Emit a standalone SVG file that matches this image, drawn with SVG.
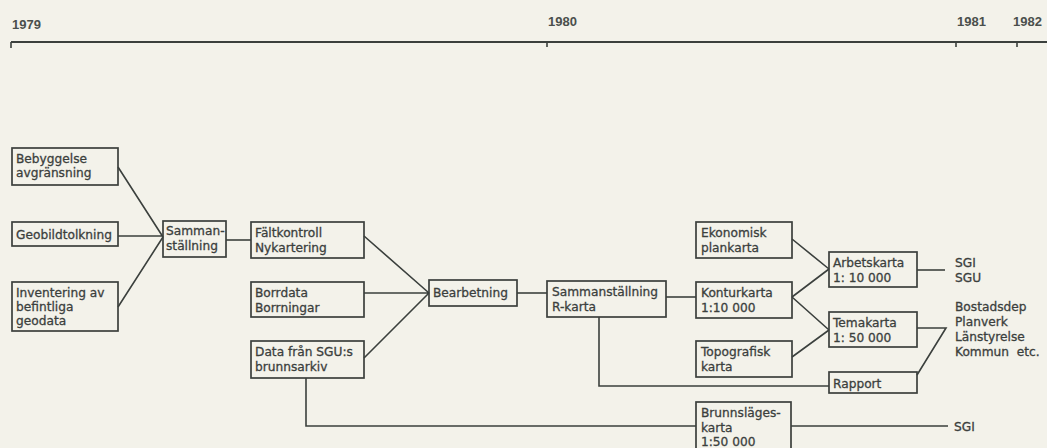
<svg xmlns="http://www.w3.org/2000/svg" width="1047" height="448" viewBox="0 0 1047 448">
<style>
.bg{fill:#f3f2ea}
.box{fill:none;stroke:#3b403d;stroke-width:1.7}
.ln{fill:none;stroke:#3b403d;stroke-width:1.6}
text{font-family:"DejaVu Sans","Liberation Sans",sans-serif;font-size:12.2px;fill:#3b403d;stroke:#3b403d;stroke-width:0.3;white-space:pre}
.yr{font-family:"Liberation Sans",Arial,sans-serif;font-size:13px;font-weight:bold;fill:#4a4f4c;stroke:none}
</style>
<rect class="bg" x="0" y="0" width="1047" height="448"/>
<g id="timeline">
<path class="ln" d="M11 42H1047" style="stroke-width:2"/>
<path class="ln" d="M11 42V48M547 42V47M956 42V47M1017 42V47"/>
<text class="yr" x="12" y="29">1979</text>
<text class="yr" x="548" y="26">1980</text>
<text class="yr" x="957" y="26">1981</text>
<text class="yr" x="1013" y="26">1982</text>
</g>
<g id="connectors">
<path class="ln" d="M118 167L163 237M118 236H163M118 307L163 237"/>
<path class="ln" d="M226 240H251"/>
<path class="ln" d="M364 236L429 293M364 293H429M364 358L429 293"/>
<path class="ln" d="M517 293H547"/>
<path class="ln" d="M666 297H696"/>
<path class="ln" d="M792 239L829 269M792 297L829 269M792 297L829 330M792 357L829 330"/>
<path class="ln" d="M917 270H945"/>
<path class="ln" d="M917 328H946L917 375"/>
<path class="ln" d="M599 317V386H829"/>
<path class="ln" d="M306 378V426H696M791 426H948"/>
</g>
<g id="n-bebyggelse"><rect class="box" x="12" y="148" width="106" height="37"/><text x="16" y="163">Bebyggelse</text><text x="16" y="177">avgränsning</text></g>
<g id="n-geobild"><rect class="box" x="12" y="222" width="106" height="24"/><text x="16" y="239">Geobildtolkning</text></g>
<g id="n-inventering"><rect class="box" x="12" y="282" width="106" height="49"/><text x="16" y="297">Inventering av</text><text x="16" y="311">befintliga</text><text x="16" y="325">geodata</text></g>
<g id="n-samman"><rect class="box" x="163" y="221" width="63" height="36"/><text x="166" y="235">Samman-</text><text x="166" y="250">ställning</text></g>
<g id="n-faltkontroll"><rect class="box" x="251" y="222" width="113" height="36"/><text x="255" y="237">Fältkontroll</text><text x="255" y="252">Nykartering</text></g>
<g id="n-borrdata"><rect class="box" x="251" y="282" width="113" height="35"/><text x="255" y="297">Borrdata</text><text x="255" y="312">Borrningar</text></g>
<g id="n-datasgu"><rect class="box" x="251" y="341" width="113" height="37"/><text x="255" y="356">Data från SGU:s</text><text x="255" y="371">brunnsarkiv</text></g>
<g id="n-bearbetning"><rect class="box" x="429" y="280" width="88" height="26"/><text x="433" y="297">Bearbetning</text></g>
<g id="n-rkarta"><rect class="box" x="547" y="281" width="119" height="36"/><text x="552" y="296">Sammanställning</text><text x="552" y="311">R-karta</text></g>
<g id="n-ekonomisk"><rect class="box" x="696" y="222" width="96" height="36"/><text x="701" y="237">Ekonomisk</text><text x="701" y="252">plankarta</text></g>
<g id="n-kontur"><rect class="box" x="696" y="282" width="96" height="36"/><text x="701" y="297">Konturkarta</text><text x="701" y="312">1:10 000</text></g>
<g id="n-topografisk"><rect class="box" x="696" y="341" width="96" height="36"/><text x="701" y="356">Topografisk</text><text x="701" y="371">karta</text></g>
<g id="n-arbetskarta"><rect class="box" x="829" y="252" width="88" height="35"/><text x="833" y="267">Arbetskarta</text><text x="833" y="282">1: 10 000</text></g>
<g id="n-temakarta"><rect class="box" x="829" y="312" width="88" height="35"/><text x="833" y="327">Temakarta</text><text x="833" y="342">1: 50 000</text></g>
<g id="n-rapport"><rect class="box" x="829" y="372" width="88" height="21"/><text x="833" y="388">Rapport</text></g>
<g id="n-brunnslages"><rect class="box" x="696" y="402" width="95" height="50"/><text x="701" y="417">Brunnsläges-</text><text x="701" y="432">karta</text><text x="701" y="446">1:50 000</text></g>
<g id="t-sgi-sgu"><text x="955" y="267">SGI</text><text x="955" y="282">SGU</text></g>
<g id="t-bostad"><text x="955" y="311">Bostadsdep</text><text x="955" y="326">Planverk</text><text x="955" y="341">Länstyrelse</text><text x="955" y="356">Kommun  etc.</text></g>
<g id="t-sgi2"><text x="954" y="431">SGI</text></g>
</svg>
